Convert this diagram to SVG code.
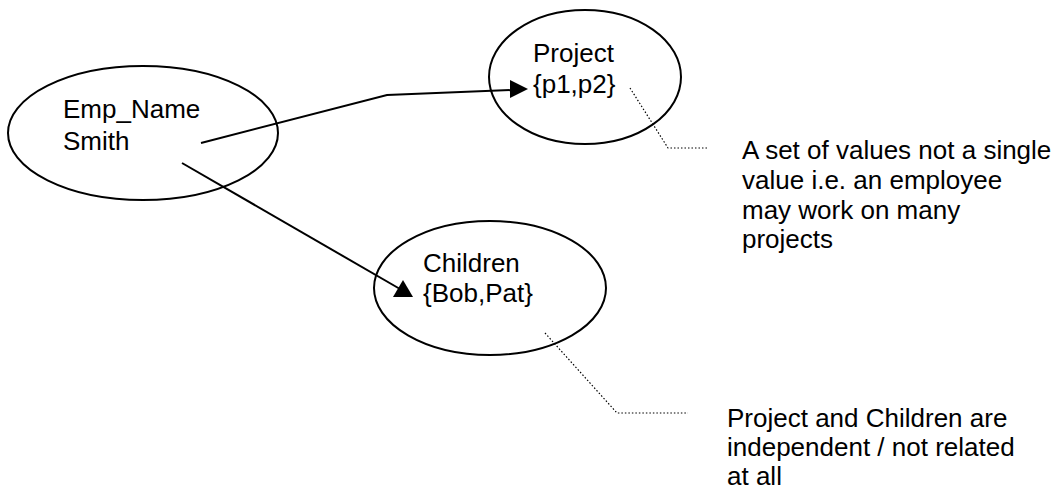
<svg xmlns="http://www.w3.org/2000/svg" width="1063" height="491" viewBox="0 0 1063 491">
<defs>
<style>
.shape{fill:#fff;stroke:#000;stroke-width:2}
.t{font-family:"Liberation Sans",Arial,sans-serif;font-size:26px;fill:#000}
.conn{fill:none;stroke:#000;stroke-width:2}
.head{fill:#000;stroke:none}
.dot{fill:none;stroke:#000;stroke-width:1.2;stroke-dasharray:1.5 2}
</style>
</defs>
<rect width="1063" height="491" fill="#fff"/>
<g id="emp">
<ellipse class="shape" cx="143" cy="133" rx="135" ry="67"/>
<text class="t" x="63" y="118">Emp_Name</text>
<text class="t" x="63" y="150">Smith</text>
</g>
<g id="project">
<ellipse class="shape" cx="585" cy="77" rx="96" ry="67"/>
<text class="t" x="533" y="62">Project</text>
<text class="t" x="533" y="93">{p1,p2}</text>
</g>
<g id="children">
<ellipse class="shape" cx="490" cy="288" rx="116" ry="67"/>
<text class="t" x="423" y="272">Children</text>
<text class="t" x="423" y="302">{Bob,Pat}</text>
</g>
<g id="note1">
<text class="t" x="742" y="159">A set of values not a single</text>
<text class="t" x="742" y="189">value i.e. an employee</text>
<text class="t" x="742" y="219">may work on many</text>
<text class="t" x="742" y="248">projects</text>
</g>
<g id="note2">
<text class="t" x="727" y="427">Project and Children are</text>
<text class="t" x="727" y="456">independent / not related</text>
<text class="t" x="727" y="485">at all</text>
</g>
<g id="connectors">
<polyline class="conn" points="201,143 387,95 512,90"/>
<polygon class="head" points="510,80 528,89 510,98"/>
<line class="conn" x1="182" y1="163" x2="400" y2="289"/>
<polygon class="head" points="393,297 413,297 403,280"/>
<polyline class="dot" points="630,88 668,148 707,148"/>
<polyline class="dot" points="545,333 617,413 688,413"/>
</g>
</svg>
